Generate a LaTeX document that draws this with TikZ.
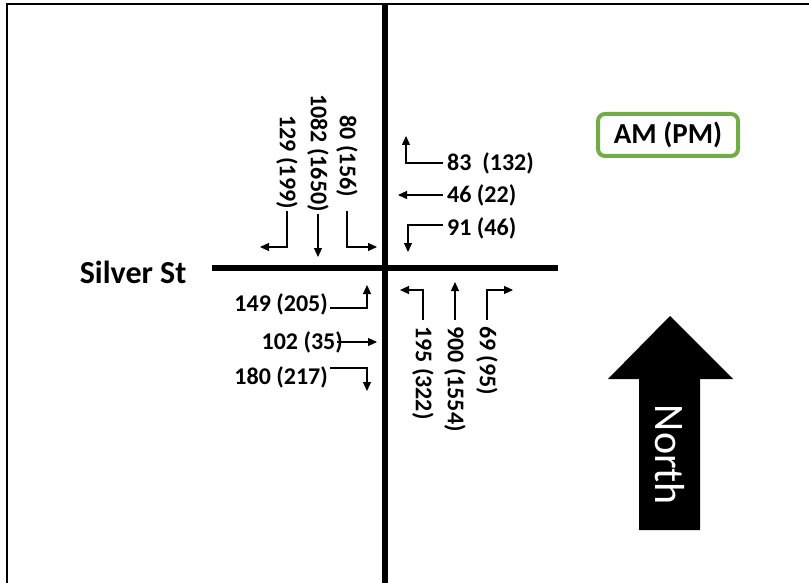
\documentclass[tikz,border=0pt]{standalone}
\usepackage{fontspec}
\setmainfont{Carlito}
\usetikzlibrary{arrows.meta,positioning}
\definecolor{amgreen}{HTML}{70AD47}
\tikzset{
  vol/.style={font=\bfseries\fontsize{24}{27}\selectfont, inner sep=2pt},
  volv/.style={vol, rotate=-90},
  mv/.style={-{Triangle[length=9pt,width=8pt]}, line width=1.1pt},
  road/.style={line width=6pt},
  title/.style={font=\bfseries\fontsize{30}{34}\selectfont},
}

\begin{document}
\begin{tikzpicture}[x=1pt, y=-1pt]
  \useasboundingbox (0,0) rectangle (809,583);
  \draw[line width=2pt] (7,583) -- (7,4) -- (809,4);

  % roads
  \draw[road] (385,4) -- (385,583);
  \draw[road] (212,268) -- (558,268);
  \node[title, font=\bfseries\fontsize{32}{36}\selectfont, anchor=east] (silver) at (190,272) {Silver St};

  % southbound
  \node[volv, anchor=east] (s129) at (287,211) {129 (199)};
  \node[volv, anchor=east] (s1082) at (318,214) {1082 (1650)};
  \node[volv, anchor=east] (s80) at (347,199) {80 (156)};
  \draw[mv] (s129.east) |- ++(-27,36);
  \draw[mv] (s1082.east) -- ++(0,43);
  \draw[mv] (s80.east |- s129.east) |- ++(30,36);

  % westbound
  \node[vol, anchor=west, inner sep=4pt] (w83) at (443,163) {83\ \ (132)};
  \node[vol, anchor=west, inner sep=4pt] (w46) at (443,195) {46 (22)};
  \node[vol, anchor=west, inner sep=4pt] (w91) at (443,228) {91 (46)};
  \draw[mv] (w83.west) -| ++(-37,-27);
  \draw[mv] (w46.west) -- ++(-45,0);
  \draw[mv] ([yshift=3pt]w91.west) -| ++(-35,27);

  % eastbound
  \node[vol, anchor=east] (e149) at (330,304) {149 (205)};
  \node[vol, anchor=east] (e102) at (345,342) {102 (35)};
  \node[vol, anchor=east] (e180) at (330,377) {180 (217)};
  \draw[mv] ([yshift=-4pt]e149.east) -| ++(37,-23);
  \draw[mv] ([xshift=-8pt]e102.east) -- ++(40,0);
  \draw[mv] ([yshift=9pt]e180.east) -| ++(37,23);

  % northbound
  \node[volv, anchor=west, inner sep=6pt] (n195) at (423,320) {195 (322)};
  \node[volv, anchor=west, inner sep=6pt] (n900) at (455,320) {900 (1554)};
  \node[volv, anchor=west, inner sep=6pt] (n69) at (487,320) {69 (95)};
  \draw[mv] (n195.west) |- ++(-23,-30);
  \draw[mv] (n900.west) -- ++(0,-38);
  \draw[mv] (n69.west) |- ++(26,-30);

  % legend
  \node[title, draw=amgreen, line width=4pt, rounded corners=7pt, font=\bfseries\fontsize{29}{33}\selectfont,
        minimum width=140pt, minimum height=42pt] (key) at (668,135) {AM (PM)};

  % north arrow
  \fill (670,316) -- (733,379) -- (700,379) -- (700,530) -- (639,530)
        -- (639,379) -- (608,379) -- cycle;
  \node[white, rotate=-90, font=\fontsize{42}{46}\selectfont] (north) at (670,455) {North};
\end{tikzpicture}
\end{document}
